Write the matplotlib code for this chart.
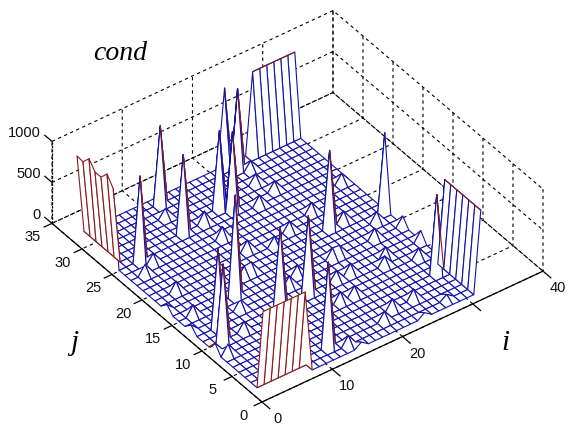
import numpy as np
import matplotlib
matplotlib.use('Agg')
import matplotlib.pyplot as plt
from mpl_toolkits.mplot3d import proj3d
from mpl_toolkits.mplot3d.art3d import Poly3DCollection

# grid size and axis ticks
n_i = 32
n_j = 32
i_ticks = [0, 10, 20, 30, 40]
i_labels = ['0', '10', '20', '', '40']
j_ticks = [0, 5, 10, 15, 20, 25, 30, 35]
z_ticks = [0, 500, 1000]

# tall spikes
spike_i = [12, 4, 11, 22, 23, 17, 18, 9, 3, 4, 12, 16, 12, 25, 32, 30]
spike_j = [31, 25, 26, 32, 31, 27, 26, 15, 10, 12, 11, 11, 3, 18, 17, 6]
spike_z = [960, 1040, 960, 960, 975, 950, 960, 1230, 940, 960, 960, 950, 1040, 950, 950, 960]

# small bumps on the floor
bump_i = [28, 27, 30, 22, 22, 26, 18, 20, 25, 22, 20, 20, 24, 25, 31, 30, 27, 21, 32, 32,
          4, 3, 15, 13, 6, 23, 24, 21, 18, 5, 3, 14, 17, 15, 14, 14,
          11, 12, 23, 8, 1, 2, 1, 1, 15, 24, 28]
bump_j = [14, 11, 9, 14, 11, 10, 8, 8, 4, 4, 3, 11, 26, 21, 23, 16, 18, 20, 11, 14,
          19, 15, 20, 17, 10, 28, 30, 25, 19, 24, 23, 2, 14, 13, 26, 23,
          29, 17, 14, 13, 9, 8, 17, 13, 1, 1, 2]
bump_z = [130, 130, 120, 130, 130, 120, 130, 120, 130, 130, 120, 120, 120, 130, 120, 130, 130, 120, 130, 120,
          130, 130, 130, 130, 120, 120, 120, 130, 120, 120, 130, 130, 120, 130, 150, 150,
          120, 120, 120, 130, 120, 130, 90, 90, 70, 70, 70]

# the four walls along the edges of the mesh
front_wall_i = [1, 2, 3, 4, 5, 6, 7]
front_wall_z = [1000, 1000, 1000, 1000, 1000, 1000, 1000]
right_wall_j = [1, 2, 3, 4, 5, 6, 7]
right_wall_z = [1000, 1000, 1000, 1000, 1000, 1000, 1000]
back_wall_i = [26, 27, 28, 29, 30, 31, 32]
back_wall_z = [1000, 1000, 1000, 1000, 1000, 1000, 1000]
left_wall_j = [26, 27, 28, 29, 30, 31, 32]
left_wall_z = [950, 1060, 960, 960, 1060, 960, 970]

BLUE = '#1414a8'
RED = '#8c1a1a'

plt.rcParams['font.family'] = ['Liberation Sans', 'DejaVu Sans']

Z = np.full((n_i, n_j), 10.0)
for a, b, v in zip(bump_i, bump_j, bump_z):
    Z[a - 1, b - 1] = v
for a, b, v in zip(spike_i, spike_j, spike_z):
    Z[a - 1, b - 1] = v
for a, v in zip(front_wall_i, front_wall_z):
    Z[a - 1, 0] = v
for b, v in zip(right_wall_j, right_wall_z):
    Z[n_i - 1, b - 1] = v
for a, v in zip(back_wall_i, back_wall_z):
    Z[a - 1, n_j - 1] = v
for b, v in zip(left_wall_j, left_wall_z):
    Z[0, b - 1] = v

fig = plt.figure(figsize=(5.71, 4.25), dpi=100)
ax = fig.add_axes([0, 0, 1, 1], projection='3d', proj_type='ortho')
ax.set_box_aspect((349.5, 353, 105.5))
ax.view_init(elev=39, azim=-126.5)
ax.set_xlim(0, 40)
ax.set_ylim(0, 35)
ax.set_zlim(0, 1000)
ax.set_xticks(i_ticks)
ax.set_xticklabels([''] * len(i_ticks))
ax.set_yticks(j_ticks)
ax.set_yticklabels([''] * len(j_ticks))
ax.set_zticks(z_ticks)
ax.set_zticklabels([''] * len(z_ticks))
ax.patch.set_alpha(0)

for axis in (ax.xaxis, ax.yaxis, ax.zaxis):
    axis.set_pane_color((1, 1, 1, 0))
    axis.pane.set_edgecolor((1, 1, 1, 0))
    axis._axinfo['grid'].update(color='black', linewidth=0.8, linestyle=(0, (3, 3)))
    axis._axinfo['tick'].update(inward_factor=0.0, outward_factor=0.0)
    axis.line.set_color('black')
    axis.line.set_linewidth(0.9)
ax.zaxis.line.set_linestyle((0, (2, 1)))
ax.zaxis.set_ticks_position('upper')

# put the box on the same pixels as the reference
size = 425.0
left, bottom = 73.0, 0.0


def to_px(x, y, z):
    px, py, _z = proj3d.proj_transform(x, y, z, ax.get_proj())
    return ax.transData.transform((px, py))


for _ in range(3):
    ax.set_position([left / 571, bottom / 425, size / 571, size / 425])
    ax.apply_aspect()
    width = to_px(40, 0, 0)[0] - to_px(0, 35, 0)[0]
    size = size * 491.0 / width
    ax.set_position([left / 571, bottom / 425, size / 571, size / 425])
    ax.apply_aspect()
    p0 = to_px(0, 0, 0)
    left += 262 - p0[0]
    bottom += 23 - p0[1]
ax.set_position([left / 571, bottom / 425, size / 571, size / 425])
ax.apply_aspect()
proj = ax.get_proj()

# mesh: white faces, blue edges on the upper side, dark red on the underside
ii = np.arange(1, n_i + 1)
jj = np.arange(1, n_j + 1)
polys = []
edge_colors = []
for a in range(n_i - 1):
    for b in range(n_j - 1):
        quad = [(ii[a], jj[b], Z[a, b]), (ii[a + 1], jj[b], Z[a + 1, b]),
                (ii[a + 1], jj[b + 1], Z[a + 1, b + 1]), (ii[a], jj[b + 1], Z[a, b + 1])]
        polys.append(quad)
        q = np.array(quad)
        sx, sy, _z = proj3d.proj_transform(q[:, 0], q[:, 1], q[:, 2], proj)
        area = 0.5 * np.sum(sx * np.roll(sy, -1) - np.roll(sx, -1) * sy)
        edge_colors.append(BLUE if area > 0 else RED)

# red silhouette on the right of each spike, red top on the back and right walls
for a, b in zip(spike_i, spike_j):
    if a < n_i:
        p = (ii[a - 1], jj[b - 1], Z[a - 1, b - 1])
        r = (ii[a], jj[b - 1], Z[a, b - 1])
        polys.append([p, r, r, p])
        edge_colors.append(RED)
for a in back_wall_i[:-1]:
    p = (ii[a - 1], jj[n_j - 1], Z[a - 1, n_j - 1])
    r = (ii[a], jj[n_j - 1], Z[a, n_j - 1])
    polys.append([p, r, r, p])
    edge_colors.append(RED)
for b in right_wall_j[:-1]:
    p = (ii[n_i - 1], jj[b - 1], Z[n_i - 1, b - 1])
    r = (ii[n_i - 1], jj[b], Z[n_i - 1, b])
    polys.append([p, r, r, p])
    edge_colors.append(RED)

mesh = Poly3DCollection(polys, facecolors='white', edgecolors=edge_colors, linewidths=0.8, zsort='average')
mesh.set_clip_on(False)
ax.add_collection3d(mesh, autolim=False)

# tick marks, pointing out of the box
for t in i_ticks:
    ax.plot([t, t], [0, -1.3], [0, 0], color='black', lw=0.9, clip_on=False)
for t in j_ticks:
    ax.plot([0, -1.1], [t, t], [0, 0], color='black', lw=0.9, clip_on=False)
for t in z_ticks:
    ax.plot([0, 0], [35, 36.2], [t, t], color='black', lw=0.9, clip_on=False)

# tick labels placed from the projected tick positions
for t, lab in zip(i_ticks, i_labels):
    p = to_px(t, 0, 0)
    fig.text((p[0] + 15) / 571, (p[1] - 17) / 425, lab, fontsize=10.5, ha='center', va='center', color='#111111')
for t in j_ticks:
    p = to_px(0, t, 0)
    fig.text((p[0] - 19) / 571, (p[1] - 14) / 425, str(t), fontsize=10.5, ha='center', va='center', color='#111111')
for t in z_ticks:
    p = to_px(0, 35, t)
    fig.text((p[0] - 11) / 571, (p[1] + 8) / 425, str(t), fontsize=10.5, ha='right', va='center', color='#111111')

fig.text(93 / 571, 1 - 60 / 425, 'cond', family='Liberation Serif', style='italic', fontsize=20)
fig.text(70 / 571, 1 - 350 / 425, 'j', family='Liberation Serif', style='italic', fontsize=21)
fig.text(501 / 571, 1 - 350 / 425, 'i', family='Liberation Serif', style='italic', fontsize=21)

fig.savefig('out.png', dpi=100)
